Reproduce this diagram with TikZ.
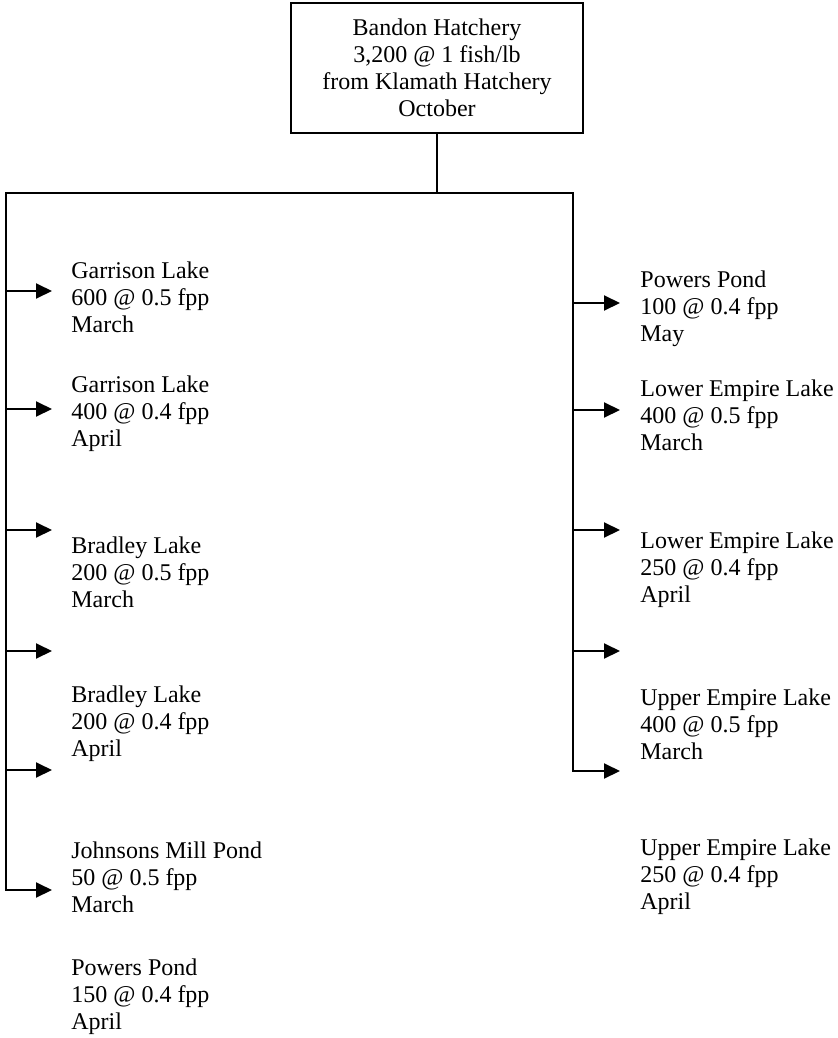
\documentclass[tikz,border=0pt]{standalone}
\usepackage{fontspec}
\setmainfont{Liberation Serif}
\usetikzlibrary{arrows.meta}

\tikzset{
  feed/.style={line width=1pt},
  tip/.tip={Triangle[length=8pt,width=7.5pt]},
  release/.style={feed, -tip},
  stock/.style={font=\fontsize{12}{13.5}\selectfont, align=left, anchor=west,
    inner sep=0pt},
  hatchbox/.style={draw, feed, align=center, font=\fontsize{12}{13.5}\selectfont,
    minimum width=146pt, minimum height=65pt, inner sep=0pt},
}

\begin{document}
\begin{tikzpicture}[x=0.5pt,y=-0.5pt]
  \useasboundingbox (0,0) rectangle (837,1038);

  \node[hatchbox] (hatch) at (437,68)
    {Bandon Hatchery\\3,200 @ 1 fish/lb\\from Klamath Hatchery\\October};

  % trunk lines
  \coordinate (split) at (437,193);
  \coordinate (lefttop) at (6,193);
  \coordinate (righttop) at (573,193);
  \coordinate (l6) at (6,890);
  \coordinate (lt6) at (52,890);
  \coordinate (r5) at (573,771);
  \coordinate (rt5) at (620,771);
  \draw[feed] (hatch.south) -- (split);
  \draw[feed, tip-tip] (lt6) -- (l6) -- (lefttop) -- (righttop) -- (r5) -- (rt5);

  % left side arrows
  \foreach \y [count=\i] in {291,409,530,651,770}{
    \coordinate (l\i) at (6,\y);
    \coordinate (lt\i) at (52,\y);
    \draw[release] (l\i) -- (lt\i);
  }
  % right side arrows
  \foreach \y [count=\i] in {303,410,530,651}{
    \coordinate (r\i) at (573,\y);
    \coordinate (rt\i) at (620,\y);
    \draw[release] (r\i) -- (rt\i);
  }

  % left releases
  \node[stock] (garrison1) at (71,297) {Garrison Lake\\600 @ 0.5 fpp\\March};
  \node[stock] (garrison2) at (71,414) {Garrison Lake\\400 @ 0.4 fpp\\April};
  \node[stock] (bradley1) at (71,572) {Bradley Lake\\200 @ 0.5 fpp\\March};
  \node[stock] (bradley2) at (71,724) {Bradley Lake\\200 @ 0.4 fpp\\April};
  \node[stock] (johnsons) at (71,877) {Johnsons Mill Pond\\50 @ 0.5 fpp\\March};
  \node[stock] (powers2) at (71,997) {Powers Pond\\150 @ 0.4 fpp\\April};

  % right releases
  \node[stock] (powers1) at (640,309) {Powers Pond\\100 @ 0.4 fpp\\May};
  \node[stock] (lower1) at (640,415) {Lower Empire Lake\\400 @ 0.5 fpp\\March};
  \node[stock] (lower2) at (640,570) {Lower Empire Lake\\250 @ 0.4 fpp\\April};
  \node[stock] (upper1) at (640,724) {Upper Empire Lake\\400 @ 0.5 fpp\\March};
  \node[stock] (upper2) at (640,877) {Upper Empire Lake\\250 @ 0.4 fpp\\April};
\end{tikzpicture}
\end{document}
